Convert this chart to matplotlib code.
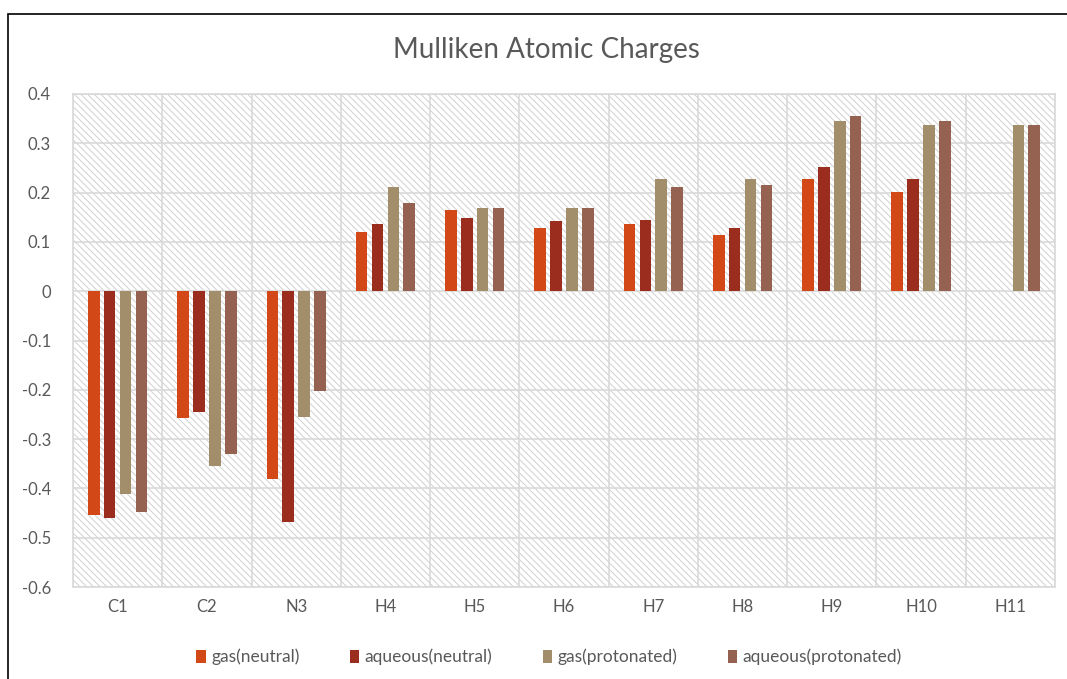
import numpy as np
import matplotlib
matplotlib.use("Agg")
import matplotlib.pyplot as plt
from matplotlib.patches import Rectangle

atoms = ["C1", "C2", "N3", "H4", "H5", "H6", "H7", "H8", "H9", "H10", "H11"]
gas_neutral = [-0.454, -0.258, -0.381, 0.120, 0.165, 0.128, 0.137, 0.114, 0.228, 0.201, np.nan]
aq_neutral = [-0.460, -0.246, -0.468, 0.137, 0.148, 0.142, 0.144, 0.128, 0.251, 0.228, np.nan]
gas_prot = [-0.411, -0.355, -0.256, 0.212, 0.168, 0.168, 0.228, 0.228, 0.345, 0.338, 0.338]
aq_prot = [-0.448, -0.331, -0.202, 0.178, 0.168, 0.168, 0.211, 0.215, 0.355, 0.345, 0.338]
series_names = ["gas(neutral)", "aqueous(neutral)", "gas(protonated)", "aqueous(protonated)"]
colors = ["#D34817", "#9B2D1F", "#A28E6A", "#956251"]
yticks = [0.4, 0.3, 0.2, 0.1, 0, -0.1, -0.2, -0.3, -0.4, -0.5, -0.6]

plt.rcParams['font.family'] = ['Lato', 'DejaVu Sans']
plt.rcParams['hatch.linewidth'] = 0.7
plt.rcParams['hatch.color'] = '#D0D0D0'

fig = plt.figure(figsize=(10.67, 6.79), dpi=100)
ax = fig.add_axes([73/1067, 1-587/679, 982/1067, 493/679])

# outer chart border
fig.patches.append(Rectangle((8/1067, -0.1), 2, 1-14/679+0.1, transform=fig.transFigure,
                             fill=False, edgecolor='black', linewidth=1.2))

# hatched plot background
ax.add_patch(Rectangle((0, 0), 1, 1, transform=ax.transAxes, facecolor='white',
                       edgecolor='#D0D0D0', hatch='\\' * 5, linewidth=0, zorder=0))

x = np.arange(len(atoms))
pitch = 0.178
width = 0.13
data = [gas_neutral, aq_neutral, gas_prot, aq_prot]
for i, vals in enumerate(data):
    ax.bar(x + (i - 1.5) * pitch, vals, width=width, color=colors[i],
           label=series_names[i], zorder=3)

ax.set_xlim(-0.5, len(atoms) - 0.5)
ax.set_ylim(-0.6, 0.4)
ax.set_yticks(yticks)
ax.set_yticklabels([("%g" % v) for v in yticks])
ax.set_xticks(x)
ax.set_xticklabels(atoms)
ax.set_xticks(np.arange(-0.5, len(atoms)), minor=True)
ax.grid(True, which='major', axis='y', color='#D9D9D9', linewidth=1.2, zorder=1)
ax.grid(True, which='minor', axis='x', color='#D9D9D9', linewidth=1.2, zorder=1)
ax.tick_params(which='both', length=0)
ax.tick_params(axis='y', labelsize=12, labelcolor='#595959', pad=16)
ax.tick_params(axis='x', labelsize=12, labelcolor='#595959', pad=9)
for s in ax.spines.values():
    s.set_color('#D9D9D9')
    s.set_linewidth(1.2)
ax.set_axisbelow(True)

fig.text(546/1067, 1-50/679, "Mulliken Atomic Charges", ha='center', va='center',
         fontsize=20, color='#595959')

ax.legend(loc='center', bbox_to_anchor=(549/1067, 1-657/679), bbox_transform=fig.transFigure,
          ncol=4, frameon=False, fontsize=12.5, labelcolor='#595959',
          handlelength=0.55, handleheight=0.8, handletextpad=0.3, columnspacing=2.9)

fig.savefig("out.png", dpi=100)
